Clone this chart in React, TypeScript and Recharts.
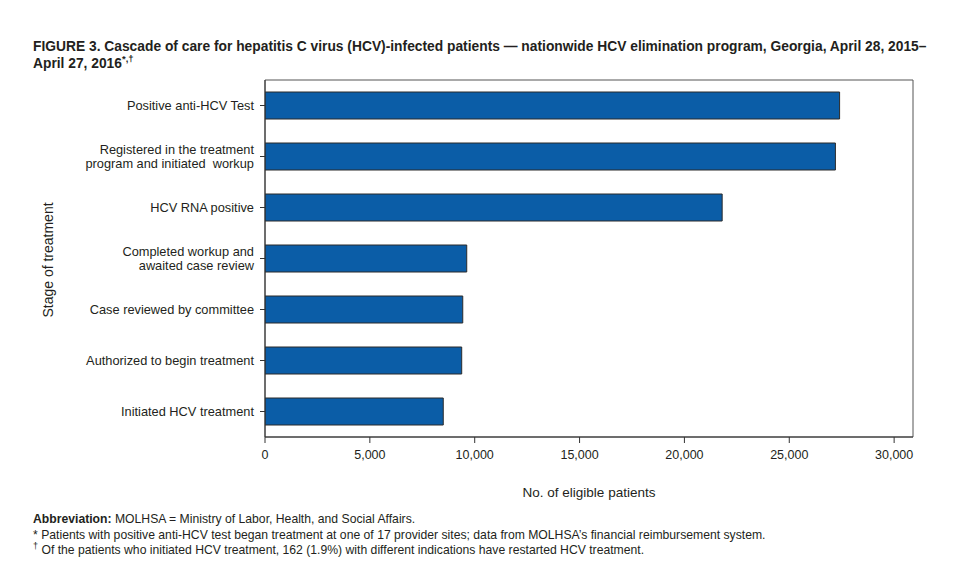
import React from 'react';
import { BarChart, Bar, XAxis, YAxis, ReferenceArea } from 'recharts';

const stages: string[] = [
  'Positive anti-HCV Test',
  'Registered in the treatment\nprogram and initiated  workup',
  'HCV RNA positive',
  'Completed workup and\nawaited case review',
  'Case reviewed by committee',
  'Authorized to begin treatment',
  'Initiated HCV treatment',
];
const patients: number[] = [27400, 27200, 21800, 9620, 9430, 9380, 8500];
const xTicks: number[] = [0, 5000, 10000, 15000, 20000, 25000, 30000];

const data = stages.map((s, i) => ({ stage: s, value: patients[i] }));

const FONT = '"Liberation Sans", Arial, sans-serif';
const TEXT = '#231f20';

const CategoryTick = (props: any) => {
  const { x, y, payload } = props;
  const lines: string[] = String(payload.value).split('\n');
  const lh = 14;
  const start = -((lines.length - 1) * lh) / 2;
  return (
    <text x={x} y={y} textAnchor="end" fontSize={12.8} fill={TEXT} fontFamily={FONT} style={{ whiteSpace: 'pre' }}>
      {lines.map((l, i) => (
        <tspan key={i} x={x} dy={i === 0 ? start + 4.5 : lh}>
          {l}
        </tspan>
      ))}
    </text>
  );
};

export default function App() {
  return (
    <div
      style={{
        position: 'absolute',
        left: 0,
        top: 0,
        width: 959,
        height: 570,
        background: '#fff',
        fontFamily: FONT,
        color: TEXT,
      }}
    >
      <div
        style={{
          position: 'absolute',
          left: 33,
          top: 38,
          width: 926,
          fontSize: 13.8,
          fontWeight: 'bold',
          lineHeight: '17px',
          whiteSpace: 'nowrap',
        }}
      >
        FIGURE 3. Cascade of care for hepatitis C virus (HCV)-infected patients — nationwide HCV elimination program, Georgia, April 28, 2015–
        <br />
        April 27, 2016<sup style={{ fontSize: 9.5, lineHeight: 0 }}>*,†</sup>
      </div>
      <div style={{ position: 'absolute', left: 0, top: 0 }}>
        <BarChart
          width={959}
          height={570}
          data={data}
          layout="vertical"
          margin={{ top: 80, right: 46, bottom: 103, left: 65 }}
        >
          <XAxis
            type="number"
            dataKey="value"
            domain={[0, 30900]}
            ticks={xTicks}
            allowDataOverflow
            tickFormatter={(v: number) => v.toLocaleString('en-US')}
            tick={{ fontSize: 12.5, fill: TEXT, fontFamily: FONT }}
            tickSize={6}
            tickMargin={7}
            height={30}
            stroke="#333"
            tickLine={{ stroke: '#333' }}
            axisLine={{ stroke: '#333' }}
          />
          <YAxis
            type="category"
            dataKey="stage"
            width={200}
            tick={<CategoryTick />}
            tickSize={5}
            tickMargin={6}
            interval={0}
            stroke="#333"
            tickLine={{ stroke: '#333' }}
            axisLine={{ stroke: '#333' }}
          />
          <ReferenceArea
            x1={0}
            x2={30900}
            fill="none"
            stroke="#555"
            strokeWidth={1}
            ifOverflow="visible"
          />
          <Bar
            dataKey="value"
            fill="#0b5da7"
            stroke="#2b2b2b"
            strokeWidth={1}
            barSize={27}
            isAnimationActive={false}
          />
        </BarChart>
      </div>
      <div
        style={{
          position: 'absolute',
          left: 48,
          top: 260,
          transform: 'translate(-50%, -50%) rotate(-90deg)',
          whiteSpace: 'nowrap',
          fontSize: 14,
        }}
      >
        Stage of treatment
      </div>
      <div
        style={{
          position: 'absolute',
          left: 589,
          top: 492,
          transform: 'translate(-50%, -50%)',
          whiteSpace: 'nowrap',
          fontSize: 13.5,
        }}
      >
        No. of eligible patients
      </div>
      <div
        style={{
          position: 'absolute',
          left: 33,
          top: 512,
          fontSize: 12.2,
          lineHeight: '15.5px',
          whiteSpace: 'nowrap',
        }}
      >
        <div>
          <b>Abbreviation:</b> MOLHSA = Ministry of Labor, Health, and Social Affairs.
        </div>
        <div>
          * Patients with positive anti-HCV test began treatment at one of 17 provider sites; data from MOLHSA’s financial reimbursement system.
        </div>
        <div>
          <sup style={{ fontSize: 9, lineHeight: 0 }}>†</sup> Of the patients who initiated HCV treatment, 162 (1.9%) with different indications have restarted HCV treatment.
        </div>
      </div>
    </div>
  );
}
